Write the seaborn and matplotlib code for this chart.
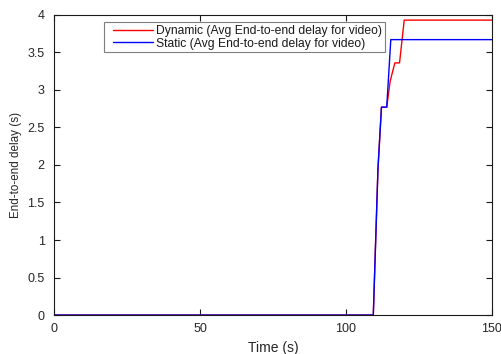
import numpy as np
import pandas as pd
import matplotlib
matplotlib.use("Agg")
import matplotlib.pyplot as plt
from matplotlib.legend_handler import HandlerLine2D
from matplotlib.lines import Line2D
import seaborn as sns

# Average end-to-end delay for video over simulation time
dyn_time = [0, 109.4, 111.0, 112.2, 114.0, 115.2, 116.8, 118.4, 120.0, 150.0]
dyn_delay = [0, 0, 1.95, 2.77, 2.77, 3.12, 3.36, 3.36, 3.93, 3.93]

sta_time = [0, 109.4, 111.0, 112.2, 114.0, 115.4, 150.0]
sta_delay = [0, 0, 1.95, 2.77, 2.77, 3.67, 3.67]

labels = ["Dynamic (Avg End-to-end delay for video)",
          "Static (Avg End-to-end delay for video)"]
x_ticks = [0, 50, 100, 150]
y_ticks = [0, 0.5, 1, 1.5, 2, 2.5, 3, 3.5, 4]

df = pd.concat([
    pd.DataFrame({"Time": dyn_time, "Delay": dyn_delay, "Mode": labels[0]}),
    pd.DataFrame({"Time": sta_time, "Delay": sta_delay, "Mode": labels[1]}),
], ignore_index=True)

sns.set_theme(style="white")
plt.rcParams["font.family"] = ["Liberation Sans", "DejaVu Sans"]

fig = plt.figure(figsize=(5.01, 3.54), dpi=100)
ax = fig.add_axes([0.1084, 0.110, 0.873, 0.848])

sns.lineplot(data=df, x="Time", y="Delay", hue="Mode", hue_order=labels,
             palette=["#ff0000", "#0000ff"], estimator=None, sort=False,
             linewidth=1.0, ax=ax)

ax.set_xlim(0, 150)
ax.set_ylim(0, 4)
ax.set_xticks(x_ticks)
ax.set_xticklabels([str(t) for t in x_ticks])
ax.set_yticks(y_ticks)
ax.set_yticklabels([f"{t:g}" for t in y_ticks])

for s in ax.spines.values():
    s.set_visible(True)
    s.set_color("#1a1a1a")
    s.set_linewidth(0.8)

ax.tick_params(axis="both", which="both", direction="in", length=4, width=0.8,
               top=True, right=True, bottom=True, left=True,
               labelsize=9, labelcolor="#262626", color="#1a1a1a")
ax.tick_params(axis="x", pad=6)
ax.tick_params(axis="y", pad=7)

ax.set_xlabel("Time (s)", fontsize=10, color="#262626", labelpad=4)
ax.set_ylabel("End-to-end delay (s)", fontsize=8.4, color="#262626", labelpad=4)

handles, _ = ax.get_legend_handles_labels()
leg = ax.legend(handles, labels, loc="upper left", bbox_to_anchor=(0.114, 0.975),
                fontsize=8.7, frameon=True, fancybox=False, framealpha=1,
                handlelength=3.8, handletextpad=0.33, borderpad=0.2,
                labelspacing=0.07, borderaxespad=0,
                handler_map={Line2D: HandlerLine2D(xpad=0.5)})
leg.get_frame().set_edgecolor("#7f7f7f")
leg.get_frame().set_linewidth(0.8)
for t in leg.get_texts():
    t.set_color("#1a1a1a")

fig.savefig("out.png", dpi=100)
